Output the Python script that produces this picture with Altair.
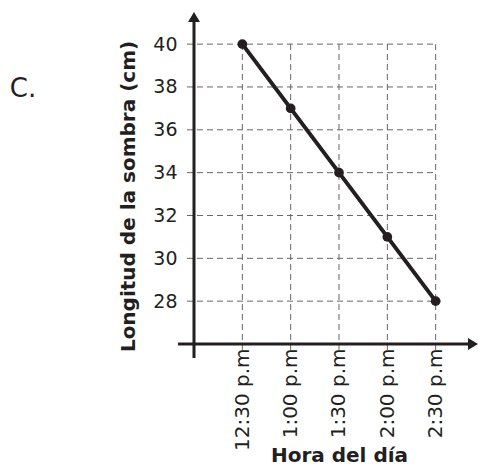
import altair as alt
import pandas as pd

# ---- data ----
hours = ["12:30 p.m", "1:00 p.m", "1:30 p.m", "2:00 p.m", "2:30 p.m"]
slots = [1, 2, 3, 4, 5]
lengths = [40, 37, 34, 31, 28]
y_ticks = [28, 30, 32, 34, 36, 38, 40]

INK = "#231f20"
GRID = "#666666"
FONT = "DejaVu Sans"

X_END = 5.876
xs = alt.Scale(domain=[0, X_END], nice=False, zero=False)
ys = alt.Scale(domain=[26, 41.5], nice=False, zero=False)

label_expr = "[" + ",".join("'%s'" % h for h in hours) + "][datum.value - 1]"

X_AXIS = alt.Axis(
    values=slots, labelExpr=label_expr, labelAngle=-90, labelAlign="right",
    labelBaseline="middle", labelPadding=4, ticks=False, domain=False, grid=False,
    labelFont=FONT, labelFontSize=20, labelColor=INK, labelOverlap=False, labelFlush=False,
    title="Hora del día", titleFont=FONT, titleFontSize=20, titleFontWeight="bold",
    titleColor=INK, titleBaseline="alphabetic", titleY=117, titleX=145, titleAlign="center",
)
Y_AXIS = alt.Axis(
    values=y_ticks, labelPadding=17, ticks=False, domain=False, grid=False,
    labelFont=FONT, labelFontSize=19, labelColor=INK, labelOverlap=False, labelFlush=False,
    labelBaseline="middle",
    title="Longitud de la sombra (cm)", titleFont=FONT, titleFontSize=20,
    titleFontWeight="bold", titleColor=INK, titleX=-66, titleY=184,
    titleAlign="center", titleBaseline="middle", titleAngle=-90,
)

df = pd.DataFrame({"slot": slots, "len": lengths})
hgrid = pd.DataFrame({"gy": y_ticks, "gx1": [-0.145] * len(y_ticks), "gx2": [5] * len(y_ticks)})
vgrid = pd.DataFrame({"vx": slots, "vy1": [25.72] * len(slots), "vy2": [40] * len(slots)})
xaxis_df = pd.DataFrame({"ax1": [-0.33], "ax2": [X_END - 0.15], "ay": [26]})
yaxis_df = pd.DataFrame({"bx": [0], "by1": [25.35], "by2": [41.3]})
arrows = pd.DataFrame({
    "px": [0, X_END],
    "py": [41.5, 26],
    "shape": ["M0,0L-0.6,1L0.6,1Z", "M0,0L-1,-0.6L-1,0.6Z"],
})
letter = pd.DataFrame({"lx": [-3.81], "ly": [37.53], "t": ["C."]})


def X(field):
    return alt.X(field, scale=xs, axis=X_AXIS)


def Y(field):
    return alt.Y(field, scale=ys, axis=Y_AXIS)


hg = alt.Chart(hgrid).mark_rule(color=GRID, strokeWidth=1, strokeDash=[6, 4]).encode(
    x=X("gx1:Q"), x2="gx2:Q", y=Y("gy:Q"),
)
vg = alt.Chart(vgrid).mark_rule(color=GRID, strokeWidth=1, strokeDash=[6, 4]).encode(
    x=X("vx:Q"), y=Y("vy1:Q"), y2="vy2:Q",
)
xa = alt.Chart(xaxis_df).mark_rule(color=INK, strokeWidth=3).encode(
    x=X("ax1:Q"), x2="ax2:Q", y=Y("ay:Q"),
)
ya = alt.Chart(yaxis_df).mark_rule(color=INK, strokeWidth=3).encode(
    x=X("bx:Q"), y=Y("by1:Q"), y2="by2:Q",
)
ar = alt.Chart(arrows).mark_point(filled=True, color=INK, size=400, opacity=1, strokeWidth=0).encode(
    x=X("px:Q"), y=Y("py:Q"),
    shape=alt.Shape("shape:N", scale=None, legend=None),
)
line = alt.Chart(df).mark_line(color=INK, strokeWidth=4).encode(
    x=X("slot:Q"), y=Y("len:Q"),
)
pts = alt.Chart(df).mark_point(filled=True, color=INK, size=95, opacity=1).encode(
    x=X("slot:Q"), y=Y("len:Q"),
)
txt = alt.Chart(letter).mark_text(font=FONT, fontSize=26, color=INK, align="left",
                                  baseline="alphabetic").encode(
    x=X("lx:Q"), y=Y("ly:Q"), text="t:N",
)

chart = alt.layer(hg, vg, xa, ya, ar, line, pts, txt).properties(
    width=284, height=332,
    autosize=alt.AutoSizeParams(type="none"),
    padding={"left": 186, "top": 4, "right": 0, "bottom": 123},
    background="white",
).configure_view(stroke=None)

chart.save("out.html", embed_options={"renderer": "svg", "actions": False})
